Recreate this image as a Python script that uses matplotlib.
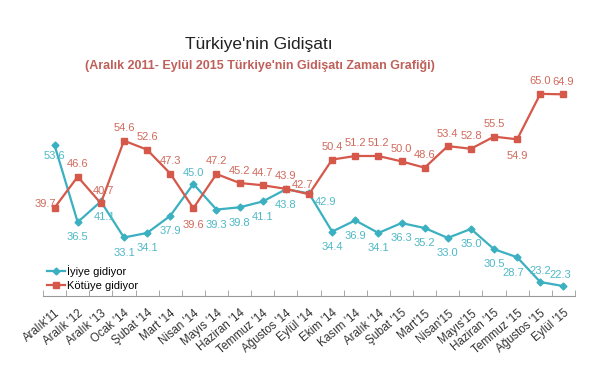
import matplotlib
matplotlib.use("Agg")
import matplotlib.pyplot as plt

categories = ["Aralık'11", "Aralık '12", "Aralık '13", "Ocak '14", "Şubat '14", "Mart '14",
              "Nisan '14", "Mayıs '14", "Haziran '14", "Temmuz '14", "Ağustos '14", "Eylül '14",
              "Ekim '14", "Kasım '14", "Aralık '14", "Şubat '15", "Mart'15", "Nisan'15",
              "Mayıs'15", "Haziran '15", "Temmuz '15", "Ağustos '15", "Eylül '15"]
iyi = [53.6, 36.5, 41.1, 33.1, 34.1, 37.9, 45.0, 39.3, 39.8, 41.1, 43.8, 42.9,
       34.4, 36.9, 34.1, 36.3, 35.2, 33.0, 35.0, 30.5, 28.7, 23.2, 22.3]
kotu = [39.7, 46.6, 40.7, 54.6, 52.6, 47.3, 39.6, 47.2, 45.2, 44.7, 43.9, 42.7,
        50.4, 51.2, 51.2, 50.0, 48.6, 53.4, 52.8, 55.5, 54.9, 65.0, 64.9]

plt.rcParams['font.family'] = ['Liberation Sans', 'DejaVu Sans']

teal = '#3bb0c0'
red = '#d5584a'
teal_lbl = '#4fb8c6'
red_lbl = '#d06a5c'

fig = plt.figure(figsize=(5.93, 3.74), dpi=100)
ax = fig.add_axes([43/593, 78/374, 532/593, 226/374])
x = list(range(len(categories)))

ax.plot(x, iyi, color=teal, lw=1.6, marker='D', ms=3.5, label='İyiye gidiyor', zorder=3)
ax.plot(x, kotu, color=red, lw=1.6, marker='s', ms=5, label='Kötüye gidiyor', zorder=3)

# label offsets in points
iyi_off = {i: (0, -11) for i in x}
iyi_off[0] = (0, -8)
iyi_off[2] = (3, -11)
iyi_off[6] = (0, 8)
iyi_off[11] = (12, -6)
iyi_off[20] = (-3, -11)
iyi_off[21] = (0, 8)
iyi_off[22] = (-2, 8)
kotu_off = {i: (0, 9) for i in x}
kotu_off[0] = (-7, 3)
kotu_off[2] = (2, 9)
kotu_off[6] = (0, -12)
kotu_off[11] = (-5, 7)
kotu_off[20] = (0, -12)
kotu_off[21] = (0, 9)

for i, v in enumerate(iyi):
    dx, dy = iyi_off[i]
    ax.annotate(f"{v:.1f}", (i, v), xytext=(dx, dy), textcoords='offset points',
                ha='center', va='center', color=teal_lbl, fontsize=8)
for i, v in enumerate(kotu):
    dx, dy = kotu_off[i]
    ax.annotate(f"{v:.1f}", (i, v), xytext=(dx, dy), textcoords='offset points',
                ha='center', va='center', color=red_lbl, fontsize=8)

ax.set_xlim(-0.5, len(categories) - 0.5)
ax.set_ylim(20.1, 70.3)
ax.set_yticks([])
for s in ['top', 'right', 'left']:
    ax.spines[s].set_visible(False)
ax.spines['bottom'].set_color('#999999')
ax.set_xticks(x)
ax.set_xticklabels(categories, rotation=40, ha='right', rotation_mode='anchor',
                   fontsize=8.3, color='#333333')
ax.tick_params(axis='x', which='major', length=0, pad=8)
ax.set_xticks([i - 0.5 for i in range(len(categories) + 1)], minor=True)
ax.tick_params(axis='x', which='minor', length=4, direction='in', color='#999999')

leg = ax.legend(loc='upper left', bbox_to_anchor=(0.0, 0.155), frameon=False,
                fontsize=8, handlelength=1.6, handletextpad=0.2, labelspacing=0.3,
                borderaxespad=0)

fig.text(0.437, 0.882, "Türkiye'nin Gidişatı", ha='center', va='center',
         fontsize=12.5, color='#222222')
fig.text(0.438, 0.823, "(Aralık 2011- Eylül 2015 Türkiye'nin Gidişatı Zaman Grafiği)",
         ha='center', va='center', fontsize=9, fontweight='bold', color='#c0605a')

fig.savefig('out.png', dpi=100)
